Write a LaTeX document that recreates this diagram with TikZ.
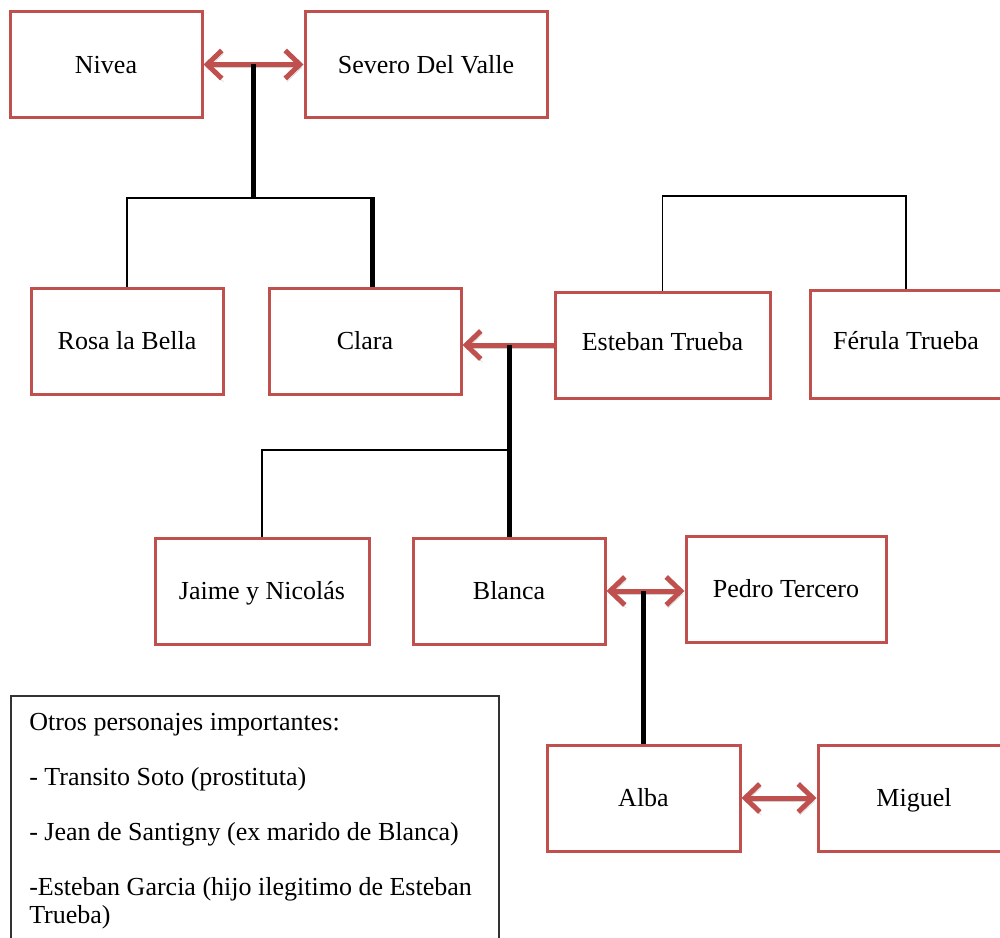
\documentclass[tikz,border=0pt]{standalone}
\usepackage{fontspec}
\setmainfont{Liberation Serif}
\usetikzlibrary{arrows.meta,calc}
\definecolor{boxred}{HTML}{C0504D}
\definecolor{legendgray}{RGB}{50,50,50}
\begin{document}
\begin{tikzpicture}[x=0.75pt,y=-0.75pt,
  font=\fontsize{19.5}{21}\selectfont,
  person/.style={draw=boxred, line width=2.25pt, fill=white,
    minimum width=144pt, minimum height=79.5pt, inner sep=0pt,
    text height=14.5pt, text depth=1.55pt},
  thickline/.style={line width=3.75pt, black},
  thinline/.style={line width=1.1pt, black},
  barb/.tip={Straight Barb[length=11pt,width=21pt]},
  shadowed/.style={preaction={draw=black, draw opacity=0.18,
    transform canvas={shift={(1.2pt,-2.4pt)}}}},
  marriage/.style={draw=boxred, line width=3.75pt, line cap=butt, {barb}-{barb}, shadowed},
  parentarrow/.style={draw=boxred, line width=3.75pt, -{barb}, shadowed}]
\clip (0,0) rectangle (1000,938);
\fill[white] (0,0) rectangle (1000,938);

% people
\node[person] (nivea) at (106,64.5) {Nivea};
\node[person, minimum width=181.5pt] (severo) at (426,64.5) {Severo Del Valle};
\node[person] (rosa) at (127,341) {Rosa la Bella};
\node[person] (clara) at (365,341) {Clara};
\node[person, minimum width=161.25pt] (esteban) at (662.5,345) {\raisebox{2.5pt}{Esteban Trueba}};
\node[person, minimum width=144pt, minimum height=81pt] (ferula) at (906,344) {\raisebox{2pt}{Férula Trueba}};
\node[person, minimum width=160.5pt] (jaime) at (262,591) {Jaime y Nicolás};
\node[person] (blanca) at (509,591) {Blanca};
\node[person, minimum width=150pt] (pedro) at (786,589) {Pedro Tercero};
\node[person, minimum width=144.75pt] (alba) at (643.5,798) {Alba};
\node[person] (miguel) at (914,798) {Miguel};

% legend
\node[draw=legendgray, line width=1.3pt, anchor=north west,
  minimum width=366pt, minimum height=200pt, inner sep=0pt] (legend) at (10,695) {};
\node[anchor=north west, align=left, inner sep=0pt] (legendtext) at (29,713)
  {Otros personajes importantes:\\[20.3pt]
   - Transito Soto (prostituta)\\[20.3pt]
   - Jean de Santigny (ex marido de Blanca)\\[20.3pt]
   -Esteban Garcia (hijo ilegitimo  de Esteban\\
   Trueba)};

% helper coordinates
\coordinate (row1) at (0,198);
\coordinate (row1b) at (0,196);
\coordinate (row2) at (0,450);

% Nivea + Severo
\draw[marriage] (nivea.east) -- (severo.west);
\coordinate (m1) at ($(nivea.east)!0.5!(severo.west)$);
\draw[thickline] (m1) -- (m1 |- row1);
\draw[thinline] (rosa.north) -- (rosa.north |- row1) -- ($(clara.north |- row1)+(7,0)$);
\draw[thickline] ($(clara.north |- row1)+(7,-0.7)$) -- ($(clara.north)+(7,0)$);

% Esteban + Ferula siblings
\draw[thinline] (esteban.north) -- (esteban.north |- row1b) -- (ferula.north |- row1b) -- (ferula.north);

% Esteban -> Clara
\draw[parentarrow] (esteban.west) -- (clara.east |- esteban.west);
\coordinate (m2) at (blanca.north |- esteban.west);
\draw[thickline] (m2) -- (blanca.north);
\draw[thinline] (jaime.north) -- (jaime.north |- row2) -- (blanca.north |- row2);

% Blanca + Pedro
\draw[marriage] (blanca.east) -- (pedro.west |- blanca.east);
\coordinate (m3) at (alba.north |- blanca.east);
\draw[thickline] (m3) -- (alba.north);

% Alba + Miguel
\draw[marriage] (alba.east) -- (miguel.west);
\end{tikzpicture}
\end{document}
